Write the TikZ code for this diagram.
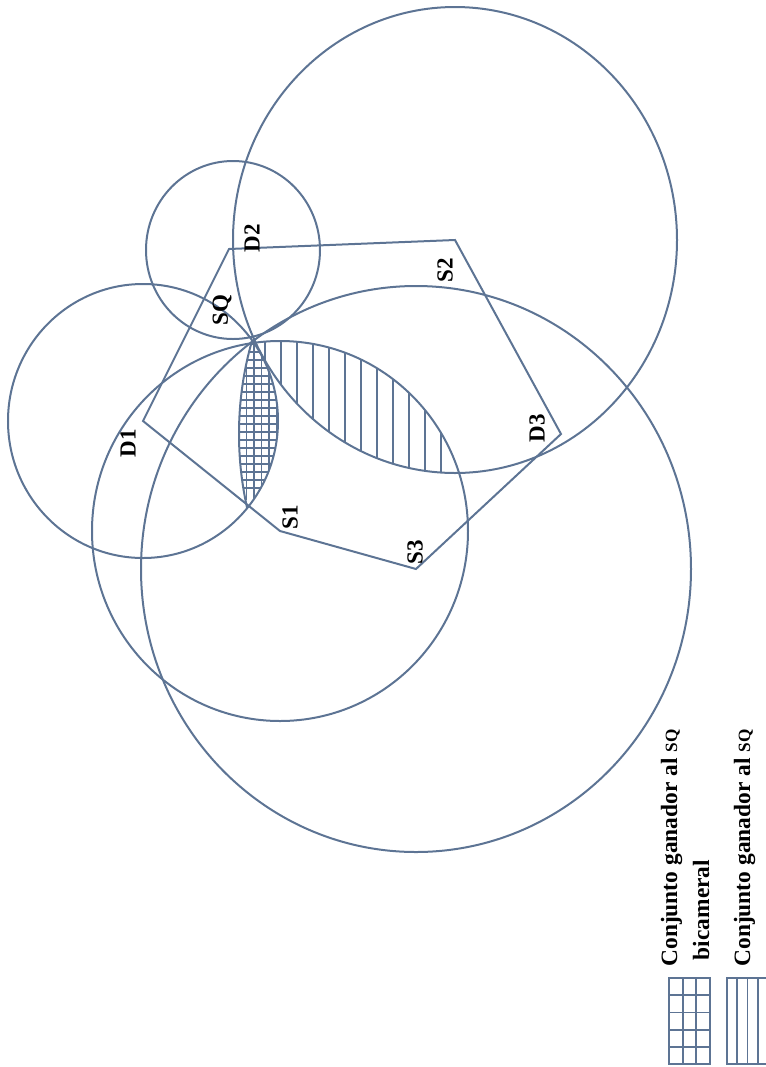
\documentclass[tikz,border=0pt]{standalone}
\usepackage{fontspec}
\setmainfont{Liberation Serif}
\usetikzlibrary{positioning}
\definecolor{lineblue}{RGB}{93,116,148}

\begin{document}
\begin{tikzpicture}[x=0.5pt,y=-0.5pt,
    wline/.style={draw=lineblue,line width=1pt},
    hline/.style={draw=lineblue,line width=0.9pt},
    lbl/.style={rotate=90,font=\fontsize{11.5}{13}\selectfont\bfseries,inner sep=0pt},
    leg/.style={rotate=90,anchor=base,font=\fontsize{11.7}{14}\selectfont\bfseries,inner sep=0pt}]
    \useasboundingbox (0,0) rectangle (766,1067);

    % ideal points and status quo
    \coordinate (sq) at (252,340);
    \coordinate (d1) at (143,421);
    \coordinate (d2) at (229,249);
    \coordinate (d3) at (561,434);
    \coordinate (s1) at (280,531);
    \coordinate (s2) at (455,240);
    \coordinate (s3) at (416,569);

    % winset of the senate
    \begin{scope}
        \clip (s1) ellipse (188 and 190);
        \clip (s2) ellipse (222 and 233);
        \foreach \x in {265,281,...,441}
            \draw[hline] (\x,330) -- (\x,480);
    \end{scope}

    % bicameral winset
    \begin{scope}
        \clip (d1) ellipse (135 and 137);
        \clip (d3) ellipse (322 and 330);
        \foreach \x in {239,246.5,...,277}
            \draw[hline] (\x,340) -- (\x,500);
        \foreach \y in {344,352,...,488}
            \draw[hline] (230,\y) -- (290,\y);
    \end{scope}
    \begin{scope}
        \clip (d1) ellipse (135 and 137);
        \draw[wline] (d3) ellipse (322 and 330);
    \end{scope}

    \draw[wline] (d2) -- (s2) -- (d3) -- (s3) -- (s1) -- (d1) -- cycle;

    \draw[wline] (d1) ellipse (135 and 137);
    \draw[wline] (233,250) ellipse (87 and 89);
    \draw[wline] (s1) ellipse (188 and 190);
    \draw[wline] (s2) ellipse (222 and 233);
    \draw[wline] (s3) ellipse (275 and 283);

    \node[lbl] (lsq) at (222,310) {SQ};
    \node[lbl] (ld1) at (128,443) {D1};
    \node[lbl] (ld2) at (252,238) {D2};
    \node[lbl] (ld3) at (537,428) {D3};
    \node[lbl] (ls1) at (290,517) {S1};
    \node[lbl] (ls2) at (445,270) {S2};
    \node[lbl] (ls3) at (415,552) {S3};

    % legend
    \draw[wline] (669,978) rectangle (710,1064);
    \foreach \x in {682.7,696.3}
        \draw[hline] (\x,978) -- (\x,1064);
    \foreach \y in {995.2,1012.4,1029.6,1046.8}
        \draw[hline] (669,\y) -- (710,\y);
    \node[leg] (legbi) at (677,848) {Conjunto ganador al {\fontsize{8.6}{10}\selectfont SQ}};
    \node[leg] (legbi2) at (709,910) {bicameral};

    \draw[wline] (727,978) rectangle (768,1064);
    \foreach \x in {737.3,747.5,757.8}
        \draw[hline] (\x,978) -- (\x,1064);
    \node[leg] (legsen) at (750,848) {Conjunto ganador al {\fontsize{8.6}{10}\selectfont SQ}};
\end{tikzpicture}
\end{document}
